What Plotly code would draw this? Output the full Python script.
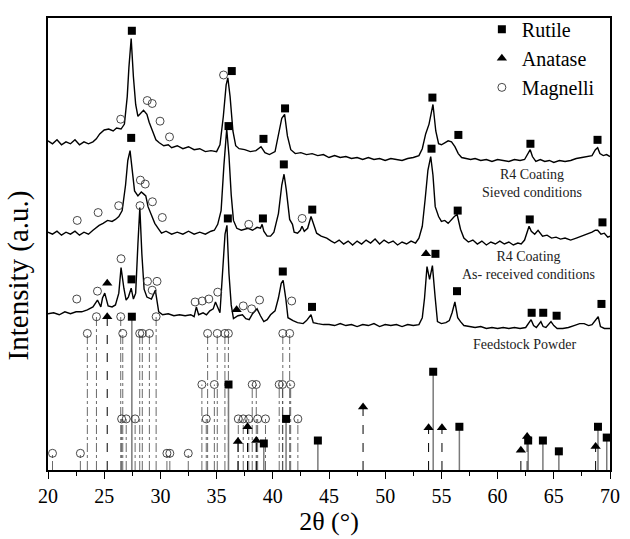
import plotly.graph_objects as go

# ---------------- measured XRD patterns (2theta, intensity a.u.) ----------------
sieved_x = [20.0,20.4,20.8,21.2,21.6,22.0,22.4,22.8,23.2,23.6,24.0,24.3,24.6,25.0,25.4,25.8,26.1,26.5,26.8,
            27.05,27.2,27.4,27.6,27.8,28.0,28.3,28.5,28.8,29.0,29.3,29.6,29.9,30.3,30.7,31.0,31.5,32.0,32.5,33.0,
            33.5,34.0,34.5,35.0,35.3,35.6,35.85,36.0,36.2,36.45,36.7,37.0,37.5,38.0,38.5,38.95,39.3,39.7,40.2,40.5,
            40.8,41.05,41.3,41.6,42.0,42.5,43.0,43.5,44.0,44.5,45.0,45.5,46.0,46.5,47.0,47.5,48.0,48.5,49.0,49.5,
            50.0,50.5,51.0,51.5,52.0,52.5,53.0,53.3,53.6,53.9,54.25,54.5,54.75,55.0,55.3,55.6,55.9,56.2,56.5,56.8,
            57.2,57.6,58.0,58.5,59.0,59.5,60.0,60.5,61.0,61.5,62.0,62.4,62.7,62.9,63.1,63.4,63.8,64.2,64.6,65.0,
            65.5,66.0,66.5,67.0,67.5,68.0,68.4,68.7,68.9,69.1,69.4,69.7,70.0]
sieved_y = [335,332,336,331,334,332,336,331,334,332,334,337,342,346,347,345,348,347,352,
            380,410,439,400,372,360,363,366,362,354,345,336,333,330,331,328,330,327,329,326,
            327,324,325,324,331,360,392,399,380,345,330,327,326,324,325,329,323,321,324,340,
            358,362,340,326,322,323,321,322,320,321,318,320,318,319,317,318,316,318,316,317,
            315,317,316,315,317,318,320,327,342,352,372,345,332,331,333,335,334,329,322,318,
            317,316,317,315,316,314,316,315,314,316,315,316,322,326,319,314,316,314,315,313,
            315,314,315,317,318,319,320,326,328,322,320,321,319]

asrec_x = [20.0,20.4,20.8,21.2,21.6,22.0,22.4,22.8,23.2,23.6,24.0,24.55,24.9,25.3,25.7,26.0,26.3,26.6,26.9,
           27.1,27.3,27.45,27.7,28.0,28.3,28.5,28.7,28.9,29.2,29.5,29.8,30.1,30.5,31.0,31.5,32.0,32.5,33.0,33.5,
           34.0,34.5,34.8,35.1,35.4,35.65,35.9,36.1,36.3,36.5,36.8,37.2,37.6,37.8,38.2,38.6,38.9,39.05,39.2,39.5,
           39.8,40.1,40.5,40.8,41.0,41.2,41.5,41.75,41.9,42.2,42.45,42.6,42.8,43.1,43.4,43.65,43.9,44.3,44.8,45.2,
           45.5,45.9,46.3,46.7,47.1,47.5,47.9,48.3,48.7,49.1,49.5,49.9,50.3,50.7,51.1,51.5,51.9,52.3,52.7,53.0,
           53.3,53.55,53.8,54.05,54.25,54.45,54.75,55.0,55.3,55.6,55.9,56.15,56.4,56.7,57.0,57.4,57.8,58.2,58.6,
           59.0,59.4,59.8,60.2,60.6,61.0,61.4,61.8,62.1,62.4,62.6,62.8,63.0,63.3,63.6,64.0,64.4,64.8,65.2,65.6,
           66.0,66.5,67.0,67.5,68.0,68.4,68.7,68.9,69.2,69.5,69.8,70.0]
asrec_y = [242,240,243,239,242,240,243,239,242,240,244,249,251,254,253,255,258,264,290,
           315,325,310,284,279,283,281,279,268,260,251,246,241,243,240,242,240,243,240,242,
           240,243,244,250,264,310,347,320,280,254,246,244,245,246,244,247,246,250,243,238,
           238,242,261,290,301,285,255,250,242,241,244,248,243,246,258,250,241,238,236,233,
           231,234,230,233,229,233,230,234,231,235,230,234,231,233,229,232,230,233,231,236,
           248,275,305,319,300,268,258,253,254,251,255,258,260,245,236,232,234,230,233,
           229,232,230,233,230,232,229,231,230,234,242,248,243,240,244,238,239,236,237,235,236,
           234,236,238,240,242,244,244,240,241,237,238,236]

feed_x = [20.0,20.5,21.0,21.5,22.0,22.5,23.0,23.5,24.0,24.4,24.7,24.85,25.05,25.35,25.7,26.0,26.3,26.5,26.75,
          26.95,27.15,27.4,27.6,27.8,28.0,28.17,28.35,28.55,28.8,29.2,29.55,29.85,30.2,30.7,31.2,31.7,32.2,32.7,
          33.0,33.2,33.4,33.8,34.1,34.4,34.7,34.9,35.3,35.55,35.75,35.92,36.1,36.3,36.5,36.9,37.3,37.6,37.9,38.2,
          38.6,38.9,39.2,39.5,39.8,40.2,40.5,40.75,40.92,41.15,41.35,41.8,42.2,42.7,43.0,43.4,43.6,44.0,44.5,45.0,
          45.5,46.0,46.5,47.0,47.5,48.0,48.5,49.0,49.5,50.0,50.5,51.0,51.5,52.0,52.5,53.0,53.3,53.5,53.72,53.95,
          54.2,54.45,54.65,55.0,55.4,55.7,55.95,56.2,56.45,56.7,57.0,57.5,58.0,58.5,59.0,59.5,60.0,60.5,61.0,
          61.5,62.0,62.5,62.75,62.98,63.2,63.45,63.85,64.05,64.3,64.75,65.0,65.3,65.8,66.3,66.8,67.3,67.7,68.1,
          68.4,68.7,68.95,69.15,69.5,70.0]
feed_y = [159,160,158,161,159,161,161,163,166,173,166,175,180,167,166,168,180,206,185,
          173,176,185,174,180,230,267,220,184,176,174,183,161,158,159,157,158,157,158,
          156,166,158,160,158,162,164,171,160,200,240,249,200,168,154,157,158,154,153,159,
          164,157,151,153,158,162,175,190,193,175,155,152,150,149,152,158,150,149,148,148,
          147,149,147,148,146,148,147,149,146,148,147,148,146,148,147,148,155,175,207,194,
          208,175,151,149,150,152,160,171,155,151,147,146,145,146,144,145,144,145,144,
          145,144,145,149,153,147,145,151,146,145,151,147,144,144,145,147,149,149,147,
          148,153,156,146,144,144]

# ---------------- phase identification marks on the patterns ----------------
rutile_lbl_x = [27.46,36.35,41.09,39.17,54.2,56.51,62.92,68.89,
                27.4,36.06,40.98,39.12,43.51,54.12,56.45,62.86,69.33,
                27.43,36.0,40.89,43.49,54.47,56.39,63.03,64.06,65.25,69.24]
rutile_lbl_y = [447,406,368,337,379,341,332,336,
                338,350,311,256,265,327,264,255,252,
                194,256,202,166,220,182,160,160,157,169]
anatase_lbl_x = [25.27,36.78,53.63]
anatase_lbl_y = [190,163,220]
magnelli_lbl_x = [35.62,26.47,28.83,29.27,29.97,30.81,
                  28.22,28.65,26.29,29.29,24.46,22.6,30.17,37.86,42.61,
                  28.19,26.5,24.4,22.56,28.85,29.7,29.27,33.09,33.72,34.31,35.1,37.37,38.12,38.82,41.68]
magnelli_lbl_y = [402,357,376,373,355,339,
                  295,291,269,273,262,254,257,250,256,
                  269,215,182,174,192,192,183,171,172,174,181,167,164,173,172]

# ---------------- reference stick patterns (position, relative height) ----------------
rutile_ref_x = [27.46,36.06,39.2,41.18,44.01,54.27,56.6,62.72,64.03,65.45,68.93,69.71]
rutile_ref_h = [156,87,27,52,30,100,44,30,30,19,44,33]
anatase_ref_x = [25.27,36.9,37.75,38.53,48.03,53.86,55.05,62.07,62.63,68.72]
anatase_ref_h = [156,29,44,30,64,43,43,20,34,24]
magnelli_ref_x = [24.31,26.47,29.62,
                  23.5,26.65,28.16,28.39,29.02,34.2,35.06,35.74,36.05,40.89,41.5,
                  33.69,34.8,38.17,38.53,40.57,40.86,41.59,
                  26.55,26.96,27.75,34.08,36.93,37.37,37.86,38.65,39.35,42.23,
                  20.4,22.88,30.58,30.84,32.48]
magnelli_ref_h = [156,156,156,
                  139,139,139,139,139,139,139,139,139,139,139,
                  87,87,87,87,87,87,87,
                  52,52,52,52,52,52,52,52,52,52,
                  17,17,17,17,17]

FONT = "Liberation Serif, Times New Roman, serif"


def sticks(xs, hs):
    sx, sy = [], []
    for x, h in zip(xs, hs):
        sx += [x, x, None]
        sy += [0, h, None]
    return sx, sy


fig = go.Figure()

# measured patterns
for xs, ys in [(sieved_x, sieved_y), (asrec_x, asrec_y), (feed_x, feed_y)]:
    fig.add_trace(go.Scatter(x=xs, y=ys, mode="lines", line=dict(color="black", width=1.4),
                             showlegend=False, hoverinfo="skip"))

# stick lines
sx, sy = sticks(magnelli_ref_x, magnelli_ref_h)
fig.add_trace(go.Scatter(x=sx, y=sy, mode="lines", line=dict(color="#444", width=0.8, dash="dashdot"),
                         showlegend=False, hoverinfo="skip"))
sx, sy = sticks(anatase_ref_x, anatase_ref_h)
fig.add_trace(go.Scatter(x=sx, y=sy, mode="lines", line=dict(color="black", width=1, dash="dash"),
                         showlegend=False, hoverinfo="skip"))
sx, sy = sticks(rutile_ref_x, rutile_ref_h)
fig.add_trace(go.Scatter(x=sx, y=sy, mode="lines", line=dict(color="#7a7a7a", width=1.5),
                         showlegend=False, hoverinfo="skip"))

# phase markers (pattern labels + stick tops)
fig.add_trace(go.Scatter(x=rutile_lbl_x + rutile_ref_x, y=rutile_lbl_y + rutile_ref_h, mode="markers",
                         name="Rutile", marker=dict(symbol="square", size=8, color="black")))
fig.add_trace(go.Scatter(x=anatase_lbl_x + anatase_ref_x, y=anatase_lbl_y + anatase_ref_h, mode="markers",
                         name="Anatase", marker=dict(symbol="triangle-up", size=9, color="black")))
fig.add_trace(go.Scatter(x=magnelli_lbl_x + magnelli_ref_x, y=magnelli_lbl_y + magnelli_ref_h, mode="markers",
                         name="Magnelli", marker=dict(symbol="circle-open", size=8, color="#333",
                                                      line=dict(width=0.9, color="#333"))))

ann_font = dict(family=FONT, size=14, color="#222")
fig.add_annotation(x=63.1, y=292, text="R4 Coating<br>Sieved conditions", showarrow=False, font=ann_font)
fig.add_annotation(x=62.75, y=208, text="R4 Coating<br>As- received conditions", showarrow=False, font=ann_font)
fig.add_annotation(x=62.4, y=128, text="Feedstock Powder", showarrow=False, font=ann_font)

# y-axis title (placed as rotated text to match the original's vertical position)
fig.add_annotation(xref="paper", yref="paper", x=-0.052, y=0.43, text="Intensity (a.u.)",
                   textangle=-90, showarrow=False, xanchor="center", yanchor="middle",
                   font=dict(family=FONT, size=29, color="black"))

fig.update_layout(
    width=630, height=539,
    margin=dict(l=48, r=10, t=11, b=68),
    paper_bgcolor="white", plot_bgcolor="white",
    font=dict(family=FONT, color="black"),
    legend=dict(x=0.772, y=1.018, xanchor="left", yanchor="top", bgcolor="rgba(0,0,0,0)",
                font=dict(family=FONT, size=20, color="black"), itemwidth=30, tracegroupgap=0),
    xaxis=dict(range=[20, 70], dtick=5, tick0=20, showgrid=False, zeroline=False,
               showline=True, linecolor="black", linewidth=1.5, mirror=True,
               ticks="outside", ticklen=7, tickwidth=1.2, tickcolor="black",
               minor=dict(dtick=2.5, ticks="outside", ticklen=4, tickwidth=1.2, tickcolor="black"),
               tickfont=dict(family=FONT, size=20),
               title=dict(text="2θ (°)", font=dict(family=FONT, size=26), standoff=4)),
    yaxis=dict(range=[0, 460], showgrid=False, zeroline=False, showticklabels=False, ticks="",
               showline=True, linecolor="black", linewidth=1.5, mirror=True),
)

fig.write_html("out.html")
